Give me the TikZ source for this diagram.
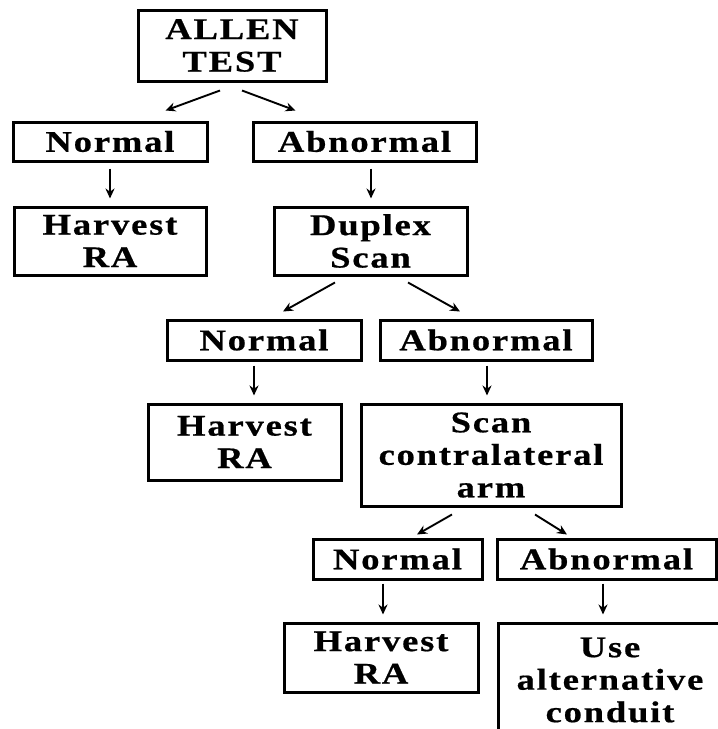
\documentclass[tikz,border=0pt]{standalone}
\usepackage{fontspec}
\setmainfont{Liberation Serif}[FakeStretch=1.22,LetterSpace=6,FakeBold=0.6]
\usetikzlibrary{arrows.meta,calc}
\tikzset{
  box/.style={draw=black,line width=3pt,rectangle,inner sep=0pt,align=center,
    font=\fontsize{30}{32.5}\selectfont\bfseries},
  arr/.style={-{Stealth[length=10pt,width=9pt]},line width=1.9pt}
}
\begin{document}
\begin{tikzpicture}[x=1pt,y=-1pt]
\useasboundingbox (0,0) rectangle (718,729);
\clip (0,0) rectangle (718,729);
\fill[white] (0,0) rectangle (718,729);
\node[box,minimum width=188,minimum height=71] (allen) at (232,45.5) {ALLEN\\TEST};
\node[box,minimum width=194,minimum height=39] (n1) at (110,141.5) {Normal};
\node[box,minimum width=223,minimum height=39] (a1) at (364.5,141.5) {Abnormal};
\node[box,minimum width=192,minimum height=68] (h1) at (110,241) {Harvest\\RA};
\node[box,minimum width=193,minimum height=68] (dup) at (370.5,241) {Duplex\\Scan};
\node[box,minimum width=194,minimum height=40] (n2) at (264,340) {Normal};
\node[box,minimum width=212,minimum height=40] (a2) at (486,340) {Abnormal};
\node[box,minimum width=193,minimum height=76] (h2) at (244.5,442) {Harvest\\RA};
\node[box,minimum width=260,minimum height=102] (scan) at (491,455) {Scan\\contralateral\\arm};
\node[box,minimum width=169,minimum height=40] (n3) at (397.5,559) {Normal};
\node[box,minimum width=219,minimum height=40] (a3) at (606.5,559) {Abnormal};
\node[box,minimum width=194,minimum height=69] (h3) at (381,657.5) {Harvest\\RA};
\node[box,minimum width=224,minimum height=114] (use) at (610,680) {Use\\alternative\\conduit};
% arrows
\draw[arr] ($(allen.south)+(-12,8)$) -- ($(n1.north east)+(-43,-10)$);
\draw[arr] ($(allen.south)+(10,8)$) -- ($(a1.north west)+(44,-10)$);
\draw[arr] ($(n1.south)+(0,6)$) -- ($(h1.north)+(0,-7)$);
\draw[arr] ($(a1.south)+(6.5,6)$) -- ($(dup.north)+(0.5,-7)$);
\draw[arr] ($(dup.south)+(-35.5,6)$) -- ($(n2.north)+(19,-7)$);
\draw[arr] ($(dup.south)+(37.5,6)$) -- ($(a2.north)+(-26,-7)$);
\draw[arr] ($(n2.south)+(-10,4)$) -- ($(h2.north)+(9.5,-7)$);
\draw[arr] ($(a2.south)+(1,4)$) -- ($(scan.north)+(-4,-7)$);
\draw[arr] ($(scan.south)+(-39,7)$) -- ($(n3.north)+(19.5,-3)$);
\draw[arr] ($(scan.south)+(44,7)$) -- ($(a3.north)+(-39.5,-3)$);
\draw[arr] ($(n3.south)+(-14.5,3)$) -- ($(h3.north)+(2,-7)$);
\draw[arr] ($(a3.south)+(-3.5,3)$) -- ($(use.north)+(-7,-7)$);
\end{tikzpicture}
\end{document}
